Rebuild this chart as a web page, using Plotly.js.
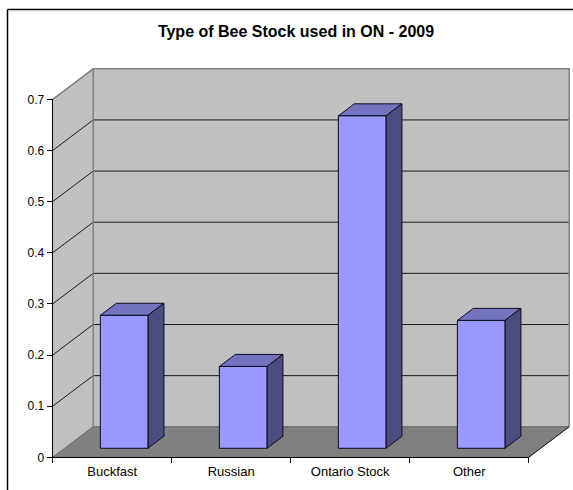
<!DOCTYPE html>
<html>
<head>
<meta charset="utf-8">
<script src="https://cdn.plot.ly/plotly-3.0.1.min.js"></script>
<style>html,body{margin:0;padding:0;background:#fff;overflow:hidden}</style>
</head>
<body>
<div id="chart" style="width:573px;height:490px"></div>
<script>
// Share of each bee stock
const categories = ['Buckfast', 'Russian', 'Ontario Stock', 'Other'];
const shares = [0.26, 0.16, 0.65, 0.25];
const gridValues = [0.1, 0.2, 0.3, 0.4, 0.5, 0.6];
const axisTop = 0.7;
const chartTitle = 'Type of Bee Stock used in ON - 2009';

// Oblique projection: one unit of depth shifts a point right and up, in axis units
const DEPTH_X = 0.3403;
const DEPTH_Y = 0.0597;
const BAR_HALF = 0.2;
const BAR_FRONT = 0.295;
const BAR_BACK = 0.69;
const LEFT = -0.5;
const RIGHT = 3.5;

// Pixel scale shared by both subplots
const W = 573, H = 490;
const X0 = 52.7, PX_PER_CAT = 119;
const Y0 = 457.3, PX_PER_UNIT = 511.4;
const catAt = px => LEFT + (px - X0) / PX_PER_CAT;
const valAt = py => (Y0 - py) / PX_PER_UNIT;
const SCENE = {l: 48, r: 572, t: 62, b: 462};

const proj = (c, v, d) => [c + d * DEPTH_X, v + d * DEPTH_Y];

function poly(points, fill, lineColor, lineWidth) {
  return {
    type: 'scatter', mode: 'lines', xaxis: 'x', yaxis: 'y', hoverinfo: 'skip', showlegend: false,
    x: points.map(p => p[0]), y: points.map(p => p[1]),
    fill: fill ? 'toself' : 'none', fillcolor: fill || undefined,
    line: {color: lineColor, width: lineWidth}
  };
}

const traces = [];

// Left wall, back wall and floor
traces.push(poly([proj(LEFT, 0, 0), proj(LEFT, 0, 1), proj(LEFT, axisTop, 1), proj(LEFT, axisTop, 0), proj(LEFT, 0, 0)], '#C0C0C0', '#C0C0C0', 0.5));
traces.push(poly([proj(LEFT, 0, 1), proj(RIGHT, 0, 1), proj(RIGHT, axisTop, 1), proj(LEFT, axisTop, 1), proj(LEFT, 0, 1)], '#C0C0C0', '#C0C0C0', 0.5));
traces.push(poly([proj(LEFT, 0, 0), proj(RIGHT, 0, 0), proj(RIGHT, 0, 1), proj(LEFT, 0, 1), proj(LEFT, 0, 0)], '#808080', '#808080', 0.5));

// Gridlines run along the left wall, then across the back wall
gridValues.forEach(v => {
  traces.push(poly([proj(LEFT, v, 0), proj(LEFT, v, 1), proj(RIGHT, v, 1)], null, '#1c1c1c', 1));
});

// Wall edges
traces.push(poly([proj(LEFT, axisTop, 0), proj(LEFT, axisTop, 1), proj(RIGHT, axisTop, 1), proj(RIGHT, 0, 1)], null, '#808080', 1.5));
traces.push(poly([proj(LEFT, 0, 1), proj(LEFT, axisTop, 1)], null, '#808080', 1.5));
traces.push(poly([proj(LEFT, 0, 0), proj(LEFT, 0, 1), proj(RIGHT, 0, 1)], null, '#666666', 1));
traces.push(poly([proj(RIGHT, 0, 0), proj(RIGHT, 0, 1)], null, '#111111', 1));

// Top and side faces of each bar
shares.forEach((v, i) => {
  const a = i - BAR_HALF, b = i + BAR_HALF;
  traces.push(poly([proj(a, v, BAR_FRONT), proj(b, v, BAR_FRONT), proj(b, v, BAR_BACK), proj(a, v, BAR_BACK), proj(a, v, BAR_FRONT)], '#7373BF', '#0c0c20', 1));
  traces.push(poly([proj(b, 0, BAR_FRONT), proj(b, 0, BAR_BACK), proj(b, v, BAR_BACK), proj(b, v, BAR_FRONT), proj(b, 0, BAR_FRONT)], '#4C4C7F', '#0c0c20', 1));
});

// Front faces sit on the subplot that carries the visible axes
traces.push({
  type: 'bar', xaxis: 'x2', yaxis: 'y2', hoverinfo: 'skip', showlegend: false,
  x: categories, y: shares,
  base: categories.map(() => BAR_FRONT * DEPTH_Y),
  width: categories.map(() => 2 * BAR_HALF),
  offset: categories.map(() => BAR_FRONT * DEPTH_X - BAR_HALF),
  marker: {color: '#9999FF', line: {color: '#0c0c20', width: 1}}
});

const fontFamily = '"Liberation Sans", Arial, sans-serif';

const layout = {
  width: W, height: H,
  margin: {l: 0, r: 0, t: 0, b: 0},
  paper_bgcolor: '#fff', plot_bgcolor: 'rgba(0,0,0,0)',
  showlegend: false,
  title: {
    text: '<b>' + chartTitle + '</b>',
    font: {family: fontFamily, size: 16, color: '#000'},
    x: 296 / W, xanchor: 'center', y: 1 - 31 / H, yanchor: 'middle'
  },
  // Scene axes: hidden, wide enough for the receding walls and floor
  xaxis: {
    domain: [SCENE.l / W, SCENE.r / W], range: [catAt(SCENE.l), catAt(SCENE.r)],
    visible: false, fixedrange: true
  },
  yaxis: {
    domain: [1 - SCENE.b / H, 1 - SCENE.t / H], range: [valAt(SCENE.b), valAt(SCENE.t)],
    visible: false, fixedrange: true
  },
  // Value and category axes drawn along the front of the floor
  xaxis2: {
    type: 'category', anchor: 'y2', categoryorder: 'array', categoryarray: categories,
    domain: [X0 / W, (X0 + 4 * PX_PER_CAT) / W], range: [LEFT, RIGHT],
    tickson: 'boundaries', ticks: 'outside', ticklen: 5, tickwidth: 1, tickcolor: '#000',
    showline: true, linecolor: '#000', linewidth: 1, showgrid: false, zeroline: false,
    tickfont: {family: fontFamily, size: 13, color: '#000'}, ticklabelstandoff: 2, fixedrange: true
  },
  yaxis2: {
    anchor: 'x2',
    domain: [1 - Y0 / H, 1 - (Y0 - axisTop * PX_PER_UNIT) / H], range: [0, axisTop],
    tickmode: 'linear', tick0: 0, dtick: 0.1, ticks: 'outside', ticklen: 5, tickwidth: 1, tickcolor: '#000',
    showline: true, linecolor: '#000', linewidth: 1, showgrid: false, zeroline: false,
    tickfont: {family: fontFamily, size: 12, color: '#000'}, fixedrange: true
  },
  // Chart frame, open on the right and at the bottom
  shapes: [
    {type: 'line', xref: 'paper', yref: 'paper', x0: 7.5 / W, x1: 1, y0: 1 - 9.5 / H, y1: 1 - 9.5 / H, line: {color: '#000', width: 1.5}},
    {type: 'line', xref: 'paper', yref: 'paper', x0: 7.5 / W, x1: 7.5 / W, y0: 0, y1: 1 - 9.5 / H, line: {color: '#000', width: 1.5}},
    {type: 'line', xref: 'paper', yref: 'paper', x0: 8.5 / W, x1: 1, y0: 1 - 10.8 / H, y1: 1 - 10.8 / H, line: {color: '#cccccc', width: 1}}
  ],
  bargap: 0
};

Plotly.newPlot('chart', traces, layout, {displayModeBar: false, staticPlot: true});
</script>
</body>
</html>
